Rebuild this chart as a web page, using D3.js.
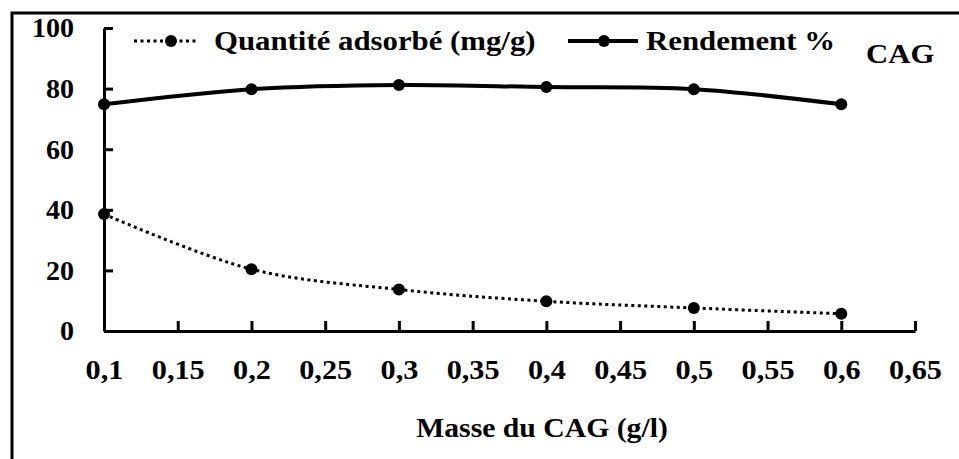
<!DOCTYPE html>
<html>
<head>
<meta charset="utf-8">
<script src="https://cdn.jsdelivr.net/npm/d3@7"></script>
<style>
  body { margin: 0; background: #fff; }
</style>
</head>
<body>
<svg id="chart" width="959" height="459"></svg>
<script>
// data
const masses = [0.1, 0.2, 0.3, 0.4, 0.5, 0.6];
const quantite = [38.6, 20.4, 13.7, 9.8, 7.6, 5.7];
const rendement = [74.8, 79.8, 81.2, 80.5, 79.8, 74.8];
const xTicks = [0.1, 0.15, 0.2, 0.25, 0.3, 0.35, 0.4, 0.45, 0.5, 0.55, 0.6, 0.65];
const yTicks = [0, 20, 40, 60, 80, 100];
const seriesNames = ['Quantité adsorbé (mg/g)', 'Rendement %'];
const xTitle = 'Masse du CAG (g/l)';
const tag = 'CAG';

const FONT = 'Liberation Serif';

const svg = d3.select('#chart');
const margin = {top: 28, right: 44, left: 104, bottom: 128};
const width = +svg.attr('width');
const height = +svg.attr('height');
const innerWidth = width - margin.left - margin.right;
const innerHeight = height - margin.top - margin.bottom;

// outer frame: only its left and top edges show in the picture
svg.append('path')
    .attr('d', `M12,${height} V13 H${width}`)
    .attr('fill', 'none').attr('stroke', '#000').attr('stroke-width', 3);

const g = svg.append('g')
    .attr('transform', `translate(${margin.left}, ${margin.top})`);

const xScale = d3.scaleLinear().domain([0.1, 0.65]).range([0, innerWidth]);
const yScale = d3.scaleLinear().domain([0, 100]).range([innerHeight, 0]);

const fmt = d => d3.format('.2~f')(d).replace('.', ',');

const xAxis = d3.axisBottom(xScale).tickValues(xTicks).tickFormat(fmt)
    .tickSizeInner(-10).tickSizeOuter(0).tickPadding(26);
const yAxis = d3.axisLeft(yScale).tickValues(yTicks)
    .tickSizeInner(-9).tickSizeOuter(0).tickPadding(30);

const xAxisG = g.append('g')
    .attr('transform', `translate(0, ${innerHeight})`)
    .call(xAxis);
const yAxisG = g.append('g').call(yAxis);

[xAxisG, yAxisG].forEach(a => {
  a.select('.domain').attr('stroke-width', 3);
  a.selectAll('.tick line').attr('stroke-width', 3);
  a.selectAll('.tick text')
      .attr('fill', '#000')
      .attr('font-family', FONT)
      .attr('font-weight', 'bold')
      .attr('font-size', 28);
});
// the original type is a little wider than it is tall
xAxisG.selectAll('.tick text')
    .attr('dy', '0.32em').attr('y', 39)
    .attr('transform', 'scale(1.08,1)');

// series lines, smoothed like the original
const pts = vals => masses.map((m, i) => [xScale(m), yScale(vals[i])]);
const line = d3.line().curve(d3.curveCatmullRom.alpha(0.5));

g.append('path')
    .attr('d', line(pts(quantite)))
    .attr('fill', 'none').attr('stroke', '#000')
    .attr('stroke-width', 3).attr('stroke-dasharray', '3,3.5');

g.append('path')
    .attr('d', line(pts(rendement)))
    .attr('fill', 'none').attr('stroke', '#000')
    .attr('stroke-width', 4);

[quantite, rendement].forEach(vals => {
  g.selectAll(null).data(pts(vals))
    .enter().append('circle')
      .attr('cx', d => d[0])
      .attr('cy', d => d[1])
      .attr('r', 6)
      .attr('fill', '#000');
});

function label(x, y, size, txt) {
  return svg.append('text')
      .attr('transform', `translate(${x},${y}) scale(1.1,1)`)
      .attr('font-family', FONT)
      .attr('font-weight', 'bold')
      .attr('font-size', size)
      .attr('fill', '#000')
      .text(txt);
}

// legend
const legY = 41;
svg.append('line')
    .attr('x1', 134).attr('x2', 198).attr('y1', legY).attr('y2', legY)
    .attr('stroke', '#000').attr('stroke-width', 3).attr('stroke-dasharray', '3,3.5');
svg.append('circle').attr('cx', 171).attr('cy', legY).attr('r', 6);
label(214, legY + 9, 28, seriesNames[0]);

svg.append('line')
    .attr('x1', 568).attr('x2', 638).attr('y1', legY).attr('y2', legY)
    .attr('stroke', '#000').attr('stroke-width', 4);
svg.append('circle').attr('cx', 604).attr('cy', legY).attr('r', 6);
label(646, legY + 9, 28, seriesNames[1]);

label(866, 63, 28, tag);

label(542, 437, 27, xTitle).attr('text-anchor', 'middle');
</script>
</body>
</html>
